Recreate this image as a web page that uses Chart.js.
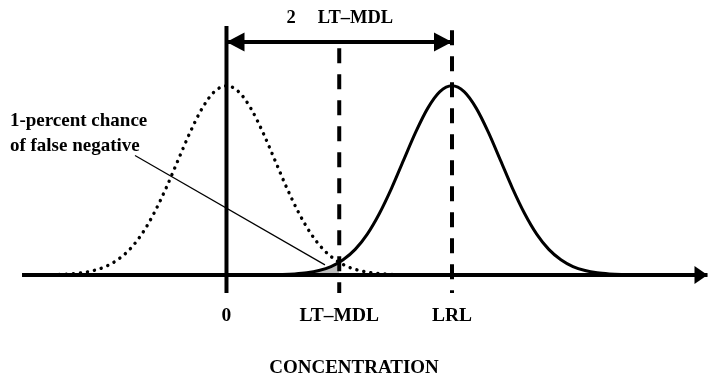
<!DOCTYPE html>
<html>
<head>
<meta charset="utf-8">
<script src="https://cdn.jsdelivr.net/npm/chart.js@4/dist/chart.umd.min.js"></script>
<style>
  html, body { margin: 0; padding: 0; background: #fff; }
  #wrap { width: 708px; height: 375px; }
</style>
</head>
<body>
<div id="wrap"><canvas id="chart"></canvas></div>
<script>
// concentration axis, in units of one standard deviation
const tickValues = [0, 2.33, 4.66];
const tickLabels = ['0', 'LT\u2013MDL', 'LRL'];

// blank distribution (dotted), centred on 0
const blankX = [-3.75, -3.5, -3.25, -3, -2.75, -2.5, -2.25, -2, -1.75, -1.5, -1.25, -1, -0.75, -0.5, -0.25, 0,
                0.25, 0.5, 0.75, 1, 1.25, 1.5, 1.75, 2, 2.25, 2.5, 2.75, 3, 3.25, 3.5, 3.75];
const blankY = [0.001, 0.002, 0.005, 0.011, 0.023, 0.044, 0.08, 0.135, 0.216, 0.325, 0.458, 0.607, 0.755, 0.882, 0.969, 1,
                0.969, 0.882, 0.755, 0.607, 0.458, 0.325, 0.216, 0.135, 0.08, 0.044, 0.023, 0.011, 0.005, 0.002, 0.001];

// distribution at the LRL (solid)
const lrlX = [0.91, 1.16, 1.41, 1.66, 1.91, 2.16, 2.41, 2.66, 2.91, 3.16, 3.41, 3.66, 3.91, 4.16, 4.41, 4.66,
              4.91, 5.16, 5.41, 5.66, 5.91, 6.16, 6.41, 6.66, 6.91, 7.16, 7.41, 7.66, 7.91, 8.16, 8.41];
const lrlY = [0.001, 0.002, 0.005, 0.011, 0.023, 0.044, 0.08, 0.135, 0.216, 0.325, 0.458, 0.607, 0.755, 0.882, 0.969, 1,
              0.969, 0.882, 0.755, 0.607, 0.458, 0.325, 0.216, 0.135, 0.08, 0.044, 0.023, 0.011, 0.005, 0.002, 0.001];

// false negative tail (shaded), left of LT-MDL
const tailX = [0.91, 1.16, 1.41, 1.66, 1.91, 2.16, 2.33];
const tailY = [0.001, 0.002, 0.005, 0.011, 0.023, 0.044, 0.066];

// reference lines
const zeroLineY = [1.316, -0.095];
const mdlLineY = [1.199, -0.095];
const lrlLineY = [1.294, -0.095];
const spanY = 1.231;
const axisX = [-4.225, 9.94];
const leaderX = [-1.89, 2.035];
const leaderY = [0.631, 0.053];

// free text on the plot
const notes = [
  { text: '1-percent chance', x: -4.475, y: 0.812, align: 'left', size: 19 },
  { text: 'of false negative', x: -4.475, y: 0.679, align: 'left', size: 19 },
  { text: '2', x: 1.334, y: 1.358, align: 'center', size: 18.5 },
  { text: 'LT\u2013MDL', x: 2.665, y: 1.358, align: 'center', size: 18.5 }
];

const SERIF = '"Liberation Serif", "Times New Roman", serif';

const pts = (xs, ys) => xs.map((x, i) => ({ x: x, y: ys[i] }));

// draws filled arrow heads at dataset ends
const arrowHeads = {
  id: 'arrowHeads',
  afterDatasetsDraw(chart) {
    const ctx = chart.ctx;
    chart.data.datasets.forEach((ds, i) => {
      if (!ds.arrow) return;
      const p = chart.getDatasetMeta(i).data;
      const head = (tip, from) => {
        const a = Math.atan2(tip.y - from.y, tip.x - from.x);
        const l = ds.arrow.length, w = ds.arrow.half;
        ctx.save();
        ctx.translate(tip.x, tip.y);
        ctx.rotate(a);
        ctx.beginPath();
        ctx.moveTo(0, 0);
        ctx.lineTo(-l, -w);
        ctx.lineTo(-l, w);
        ctx.closePath();
        ctx.fillStyle = '#000';
        ctx.fill();
        ctx.restore();
      };
      if (ds.arrow.start) head(p[0], p[1]);
      if (ds.arrow.end) head(p[p.length - 1], p[p.length - 2]);
    });
  }
};

// writes the notes at data positions
const plotNotes = {
  id: 'plotNotes',
  afterDraw(chart) {
    const ctx = chart.ctx;
    const xs = chart.scales.x, ys = chart.scales.y;
    ctx.save();
    ctx.fillStyle = '#000';
    ctx.textBaseline = 'middle';
    notes.forEach(n => {
      ctx.font = 'bold ' + n.size + 'px ' + SERIF;
      ctx.textAlign = n.align;
      ctx.fillText(n.text, xs.getPixelForValue(n.x), ys.getPixelForValue(n.y));
    });
    ctx.restore();
  }
};

const line = (data, opts) => Object.assign({
  data: data,
  borderColor: '#000',
  borderWidth: 4,
  pointRadius: 0,
  fill: false,
  tension: 0
}, opts);

new Chart(document.getElementById('chart'), {
  type: 'line',
  data: {
    datasets: [
      line(pts(leaderX, leaderY), { borderWidth: 1.2 }),
      line(pts([0, 4.66], [spanY, spanY]), { borderWidth: 4, arrow: { start: true, end: true, length: 18, half: 9.5 } }),
      line(pts([0, 0], zeroLineY), { borderWidth: 4 }),
      line(pts([2.33, 2.33], mdlLineY), { borderWidth: 4, borderDash: [15, 11] }),
      line(pts([4.66, 4.66], lrlLineY), { borderWidth: 4, borderDash: [15, 11] }),
      line(pts(blankX, blankY), { borderWidth: 3.4, borderDash: [0.1, 7], borderCapStyle: 'round', cubicInterpolationMode: 'monotone' }),
      line(pts(lrlX, lrlY), { borderWidth: 3, cubicInterpolationMode: 'monotone' }),
      line(pts(axisX, [0, 0]), { borderWidth: 4, arrow: { end: true, length: 13, half: 9 } }),
      line(pts(tailX, tailY), { borderWidth: 0, fill: 'origin', backgroundColor: '#bdbdbd', cubicInterpolationMode: 'monotone' })
    ]
  },
  options: {
    responsive: true,
    maintainAspectRatio: false,
    animation: false,
    layout: { padding: 0 },
    plugins: {
      legend: { display: false },
      tooltip: { enabled: false }
    },
    scales: {
      x: {
        type: 'linear',
        min: -4.68,
        max: 9.95,
        afterBuildTicks: scale => { scale.ticks = tickValues.map(v => ({ value: v })); },
        grid: { display: false, drawTicks: false },
        border: { display: false },
        ticks: {
          autoSkip: false,
          maxRotation: 0,
          padding: 9,
          color: '#000',
          font: { family: SERIF, size: 19.5, weight: 'bold', lineHeight: 1 },
          callback: (v, i) => tickLabels[i]
        },
        title: {
          display: true,
          text: 'CONCENTRATION',
          color: '#000',
          font: { family: SERIF, size: 19, weight: 'bold', lineHeight: 1 },
          padding: { top: 24, bottom: -3 }
        }
      },
      y: {
        display: false,
        min: -0.1194,
        max: 1.4536
      }
    }
  },
  plugins: [arrowHeads, plotNotes]
});
</script>
</body>
</html>
